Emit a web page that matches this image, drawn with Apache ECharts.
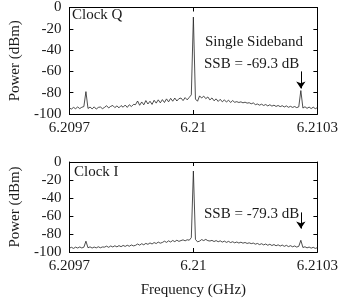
<!DOCTYPE html>
<html><head><meta charset="utf-8">
<script src="https://cdn.jsdelivr.net/npm/echarts@6/dist/echarts.min.js"></script>
<style>html,body{margin:0;padding:0;background:#fff}#c{width:341px;height:299px}</style>
</head><body><div id="c"></div>
<script>
// Frequency axis: offsets in kHz from 6.2097 GHz, sampled every 5 kHz (0..600)
const startGHz = 6.2097;
const stepKHz = 5;
const xTickLabels = ['6.2097', '6.21', '6.2103'];
const yTicks = [0, -20, -40, -60, -80, -100];

// Clock Q spectrum (dBm)
const powerQ = [
  -94.5,-95.3,-93.8,-95,-93.4,-94.9,-93.7,-93,-79,-94.8,-93.5,-95.2,-93.3,-95.4,-93.8,-93.4,-95,
  -93.8,-92.2,-94.3,-92.8,-92,-94,-92.4,-94.2,-92.1,-93.6,-91.6,-93.8,-91.3,-93,-91,
  -91.2,-87.8,-91.8,-88.7,-91.4,-87.4,-90.6,-88,-91,-87.1,-89.8,-86.7,-89.5,
  -86.5,-89.2,-85.8,-88.6,-85.3,-88,-85,-87.8,-85.6,
  -85,-87.4,-84.6,-86.7,-84.4,-82,
  -9,
  -86,-88,-83,-85,-83.2,-85.6,-84,
  -86.8,-84.9,-87.6,-85.8,-88.2,-86.2,-88.6,-86.7,-88.8,-87,-89.2,-87.4,-89,-88.4,-89.2,-88.6,-89.5,-88.9,-89.8,-89.4,-90.4,-89.6,
  -91.2,-90.6,-91.7,-90.8,-92,-91.1,-92.4,-91.3,-92.6,-91.7,-92.9,-92,-93.1,-92.2,-93.4,-92.4,-93.7,-92.8,-93.8,-93,-94,-93.3,
  -78,
  -94.4,-93.2,-94.7,-93.5,-94.9,-93.6,-95,-94
];

// Clock I spectrum (dBm)
const powerI = [
  -95.7,-94.8,-96,-94.6,-95.6,-94.4,-95.5,-94.7,-88,-95.3,-94.3,-95.6,-94.5,-95.4,-94.2,-95.3,-94.4,
  -94.6,-93.5,-94.8,-93.3,-94.4,-93.1,-94.3,-92.9,-94.1,-92.7,-93.8,-92.5,-93.6,-92.2,-93.2,
  -92.6,-91.1,-92.4,-90.8,-92,-90.4,-91.5,-89.9,-91.1,-89.5,-90.6,-89,-90.2,
  -89.4,-88,-89.3,-87.6,-88.9,-87.2,-88.5,-86.9,-88.2,
  -87.3,-86.5,-87.6,-86.4,-86.9,-84,
  -10,
  -86,-88.7,-87.9,-86.2,-87.3,-86,-87.4,
  -87.8,-87.1,-88.4,-87.3,-88.6,-87.6,-89,-87.9,-89.3,-88.2,-89.5,-88.6,-89.8,-88.9,-90,-89.1,-90.2,-89.4,-90.5,-89.8,-90.7,-90.1,
  -91.3,-90.5,-91.8,-90.8,-92.1,-91.1,-92.5,-91.4,-92.8,-91.7,-93.1,-92,-93.4,-92.3,-93.7,-92.6,-94,-93,-94.2,-93.3,-94.5,-93.7,
  -87,
  -95,-94.2,-95.4,-94.5,-95.7,-94.8,-96,-95.2
];

// SSB spur annotation (arrow) positions in data units
const spurKHz = 560;
const arrowQ = [-60, -76];
const arrowI = [-56, -74];

const FONT = 'Liberation Serif';
const FS = 15;
const TXT = '#1a1a1a';

function pairs(arr){ return arr.map((v,i)=>[i*stepKHz, v]); }

function xAxes(gi, showLabels, name){
  const base = {
    gridIndex: gi, type: 'value', min: 0, max: 600, interval: 300,
    axisLine: {show: true, onZero: false, lineStyle: {color: '#000', width: 1}},
    axisTick: {show: true, inside: true, length: 4, lineStyle: {color: '#000'}},
    splitLine: {show: false}
  };
  return [
    Object.assign({}, base, {position: 'bottom',
      axisLabel: {show: showLabels, margin: 7, fontFamily: FONT, fontSize: FS, color: TXT,
        formatter: v => xTickLabels[Math.round(v/300)]},
      name: name || '', nameLocation: 'middle', nameGap: 31,
      nameTextStyle: {fontFamily: FONT, fontSize: FS, color: TXT}}),
    Object.assign({}, base, {position: 'top', axisLabel: {show: false}})
  ];
}
function yAxes(gi){
  const base = {
    gridIndex: gi, type: 'value', min: -100, max: 0, interval: 20,
    axisLine: {show: true, onZero: false, lineStyle: {color: '#000', width: 1}},
    axisTick: {show: true, inside: true, length: 4, lineStyle: {color: '#000'}},
    splitLine: {show: false}
  };
  return [
    Object.assign({}, base, {position: 'left',
      axisLabel: {margin: 8, fontFamily: FONT, fontSize: FS, color: TXT},
      name: 'Power (dBm)', nameLocation: 'middle', nameGap: 38, nameRotate: 90,
      nameTextStyle: {fontFamily: FONT, fontSize: FS, color: TXT}}),
    Object.assign({}, base, {position: 'right', axisLabel: {show: false}})
  ];
}

function series(xi, yi, arr, arrow){
  return {
    type: 'line', xAxisIndex: xi, yAxisIndex: yi, data: pairs(arr),
    showSymbol: false, symbol: 'none', animation: false,
    lineStyle: {color: '#222', width: 0.8},
    markLine: {
      silent: true, animation: false, symbol: ['none', 'arrow'], symbolSize: 7,
      symbolOffset: 0,
      label: {show: false},
      emphasis: {disabled: true},
      lineStyle: {color: '#000', width: 1, type: 'solid'},
      itemStyle: {color: '#000'},
      data: [[{coord: [spurKHz, arrow[0]]}, {coord: [spurKHz, arrow[1]]}]]
    }
  };
}

const chart = echarts.init(document.getElementById('c'), null, {renderer: 'canvas'});
const tfont = FS + 'px "Liberation Serif"';
chart.setOption({
  animation: false,
  backgroundColor: '#fff',
  grid: [
    {left: 51, right: 22, top: 5, height: 109},
    {left: 51, right: 22, top: 162, height: 98}
  ],
  xAxis: [...xAxes(0, true), ...xAxes(1, true, 'Frequency (GHz)')],
  yAxis: [...yAxes(0), ...yAxes(1)],
  series: [series(0, 0, powerQ, arrowQ), series(2, 2, powerI, arrowI)],
  graphic: [
    {type: 'text', left: 72, top: 8, style: {text: 'Clock Q', font: tfont, fill: TXT}},
    {type: 'text', left: 205, top: 35, style: {text: 'Single Sideband', font: tfont, fill: TXT}},
    {type: 'text', left: 204, top: 57, style: {text: 'SSB = -69.3 dB', font: tfont, fill: TXT}},
    {type: 'text', left: 74, top: 165, style: {text: 'Clock I', font: tfont, fill: TXT}},
    {type: 'text', left: 204, top: 207, style: {text: 'SSB = -79.3 dB', font: tfont, fill: TXT}}
  ]
});
</script></body></html>
